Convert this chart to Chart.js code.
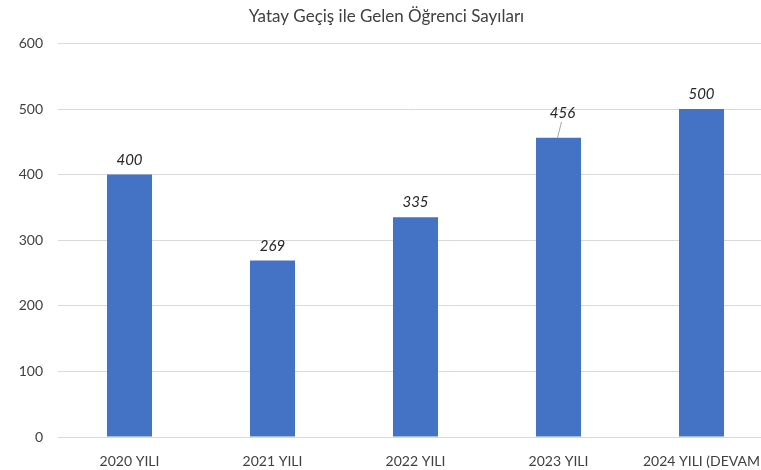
<!DOCTYPE html>
<html lang="tr">
<head>
<meta charset="utf-8">
<title>Yatay Geçiş ile Gelen Öğrenci Sayıları</title>
<script src="https://cdn.jsdelivr.net/npm/chart.js@4.4.1/dist/chart.umd.min.js"></script>
<style>
  html, body { margin: 0; padding: 0; background: #fff; overflow: hidden; }
  #wrap { width: 798px; height: 470px; }
</style>
</head>
<body>
<div id="wrap"><canvas id="chart" width="798" height="470"></canvas></div>
<script>
const categories = ["2020 YILI", "2021 YILI", "2022 YILI", "2023 YILI", ["2024 YILI (DEVAM", "EDİYOR)"]];
const students = [400, 269, 335, 456, 500];
const yTicks = [0, 100, 200, 300, 400, 500, 600];

const FONT = "Lato, 'Open Sans', sans-serif";
const TEXT = "#404040";

// value labels above each bar; 456 sits a bit higher with a short leader line
const valueLabels = {
  id: "valueLabels",
  afterDatasetsDraw(chart) {
    const { ctx } = chart;
    const meta = chart.getDatasetMeta(0);
    ctx.save();
    ctx.font = "italic 15px " + FONT;
    ctx.fillStyle = "#262626";
    ctx.textAlign = "center";
    ctx.textBaseline = "alphabetic";
    meta.data.forEach((bar, i) => {
      const v = students[i];
      let x = bar.x;
      let y = bar.y - 10;
      if (v === 456) {
        x += 4;
        y = bar.y - 20;
        ctx.strokeStyle = "#a6a6a6";
        ctx.lineWidth = 1;
        ctx.beginPath();
        ctx.moveTo(x - 1, y + 4);
        ctx.lineTo(bar.x - 1, bar.y);
        ctx.stroke();
      }
      ctx.fillText(String(v), x, y);
    });
    ctx.restore();
  }
};

new Chart(document.getElementById("chart"), {
  type: "bar",
  data: {
    labels: categories,
    datasets: [{
      label: "Öğrenci",
      data: students,
      backgroundColor: "#4472C4",
      borderWidth: 0,
      categoryPercentage: 1,
      barPercentage: 0.315
    }]
  },
  options: {
    responsive: false,
    animation: false,
    layout: { padding: { left: 0, right: 25, top: 0, bottom: 0 } },
    plugins: {
      legend: { display: false },
      tooltip: { enabled: false },
      title: {
        display: true,
        text: "Yatay Geçiş ile Gelen Öğrenci Sayıları",
        color: TEXT,
        font: { family: FONT, size: 17, weight: "normal" },
        padding: { top: 6, bottom: 17 }
      }
    },
    scales: {
      x: {
        grid: { display: false, drawTicks: false },
        border: { color: "#d9d9d9", width: 1 },
        ticks: {
          color: TEXT,
          font: { family: FONT, size: 14, lineHeight: 1.8 },
          padding: 12,
          maxRotation: 0,
          autoSkip: false
        },
        afterFit(scale) { scale.height = 33; }
      },
      y: {
        min: 0,
        max: 600,
        afterBuildTicks(scale) { scale.ticks = yTicks.map(v => ({ value: v })); },
        grid: { color: "#d9d9d9", drawTicks: false },
        border: { display: false },
        ticks: {
          color: TEXT,
          font: { family: FONT, size: 14 },
          padding: 15
        },
        afterFit(scale) { scale.width = 58; }
      }
    }
  },
  plugins: [valueLabels]
});
</script>
</body>
</html>
